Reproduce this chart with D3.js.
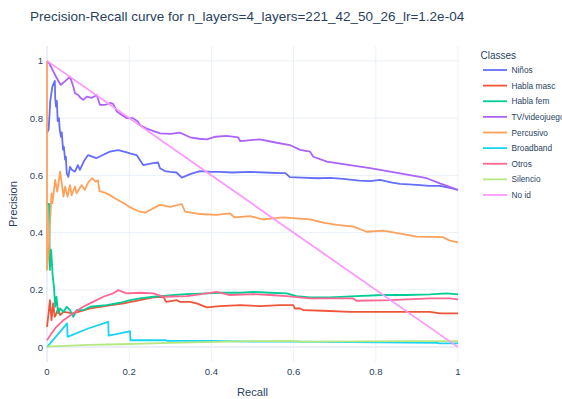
<!DOCTYPE html>
<html>
<head>
<meta charset="utf-8">
<script src="https://cdn.jsdelivr.net/npm/d3@7"></script>
<style>
  html, body { margin: 0; padding: 0; background: #fff; }
  svg { display: block; font-family: "Liberation Sans", Arial, sans-serif; }
</style>
</head>
<body>
<div id="chart"></div>
<script>
// class names + plotly default colours
const classNames = ["Niños", "Habla masc", "Habla fem", "TV/videojuego", "Percusivo", "Broadband", "Otros", "Silencio", "No id"];
const classColors = ["#636efa", "#EF553B", "#00cc96", "#ab63fa", "#FFA15A", "#19d3f3", "#FF6692", "#B6E880", "#FF97FF"];

const xTicks = [0, 0.2, 0.4, 0.6, 0.8, 1];
const yTicks = [0, 0.2, 0.4, 0.6, 0.8, 1];

// [recall, precision] pairs
const ninos = [[0,0.75],[0.004,0.76],[0.008,0.86],[0.013,0.91],[0.019,0.93],[0.02,0.87],[0.022,0.84],[0.024,0.86],[0.026,0.79],[0.029,0.80],[0.031,0.76],[0.034,0.735],[0.036,0.75],[0.039,0.69],[0.041,0.70],[0.044,0.655],[0.046,0.665],[0.048,0.607],[0.052,0.595],[0.056,0.63],[0.06,0.62],[0.068,0.613],[0.075,0.636],[0.08,0.619],[0.09,0.65],[0.1,0.671],[0.12,0.66],[0.136,0.671],[0.153,0.683],[0.173,0.688],[0.19,0.682],[0.202,0.677],[0.218,0.671],[0.234,0.636],[0.255,0.642],[0.27,0.645],[0.275,0.625],[0.287,0.615],[0.3,0.612],[0.315,0.61],[0.328,0.592],[0.35,0.605],[0.372,0.615],[0.4,0.612],[0.421,0.612],[0.45,0.61],[0.494,0.612],[0.53,0.61],[0.567,0.608],[0.58,0.608],[0.591,0.594],[0.62,0.592],[0.66,0.59],[0.689,0.591],[0.72,0.588],[0.76,0.582],[0.786,0.58],[0.81,0.584],[0.84,0.575],[0.859,0.57],[0.9,0.567],[0.93,0.563],[0.956,0.563],[0.98,0.556],[1,0.549]];

const hablaMasc = [[0,0.071],[0.004,0.12],[0.007,0.164],[0.011,0.094],[0.015,0.153],[0.019,0.106],[0.023,0.118],[0.027,0.135],[0.032,0.112],[0.04,0.123],[0.064,0.118],[0.105,0.135],[0.145,0.144],[0.186,0.153],[0.226,0.164],[0.259,0.174],[0.283,0.176],[0.29,0.158],[0.316,0.164],[0.324,0.158],[0.348,0.158],[0.364,0.153],[0.389,0.139],[0.421,0.143],[0.47,0.147],[0.518,0.143],[0.567,0.147],[0.599,0.147],[0.603,0.135],[0.616,0.135],[0.624,0.129],[0.672,0.127],[0.737,0.123],[0.85,0.123],[0.932,0.123],[0.956,0.118],[1,0.118]];

const hablaFem = [[0,0.5],[0.005,0.5],[0.007,0.27],[0.01,0.34],[0.014,0.246],[0.017,0.21],[0.02,0.141],[0.023,0.176],[0.027,0.118],[0.032,0.135],[0.04,0.123],[0.048,0.141],[0.056,0.129],[0.064,0.106],[0.072,0.129],[0.088,0.129],[0.105,0.141],[0.145,0.147],[0.178,0.155],[0.202,0.164],[0.226,0.17],[0.259,0.176],[0.307,0.182],[0.34,0.185],[0.389,0.188],[0.421,0.19],[0.47,0.19],[0.502,0.193],[0.543,0.19],[0.583,0.188],[0.607,0.178],[0.64,0.174],[0.689,0.174],[0.753,0.178],[0.818,0.182],[0.875,0.182],[0.932,0.184],[0.972,0.188],[1,0.184]];

const tvVideojuego = [[0,1],[0.006,0.99],[0.02,0.95],[0.033,0.916],[0.045,0.93],[0.056,0.945],[0.064,0.91],[0.068,0.887],[0.076,0.881],[0.082,0.87],[0.088,0.864],[0.097,0.875],[0.109,0.871],[0.121,0.881],[0.129,0.846],[0.141,0.846],[0.153,0.853],[0.161,0.85],[0.17,0.823],[0.182,0.811],[0.194,0.80],[0.209,0.80],[0.221,0.788],[0.226,0.776],[0.24,0.765],[0.251,0.759],[0.275,0.747],[0.3,0.745],[0.324,0.749],[0.348,0.733],[0.37,0.728],[0.389,0.726],[0.41,0.735],[0.437,0.738],[0.465,0.733],[0.47,0.72],[0.518,0.726],[0.559,0.714],[0.591,0.706],[0.616,0.689],[0.64,0.683],[0.648,0.665],[0.681,0.648],[0.737,0.636],[0.786,0.625],[0.835,0.613],[0.883,0.601],[0.924,0.59],[0.956,0.572],[0.98,0.56],[1,0.549]];

const percusivo = [[0,1],[0,0.27],[0.004,0.33],[0.008,0.45],[0.011,0.537],[0.013,0.502],[0.02,0.584],[0.025,0.543],[0.032,0.613],[0.036,0.572],[0.04,0.526],[0.044,0.561],[0.05,0.526],[0.056,0.566],[0.06,0.531],[0.068,0.561],[0.072,0.537],[0.084,0.566],[0.092,0.549],[0.1,0.575],[0.11,0.59],[0.118,0.578],[0.124,0.583],[0.128,0.545],[0.14,0.54],[0.153,0.531],[0.165,0.52],[0.18,0.508],[0.19,0.5],[0.2,0.49],[0.215,0.48],[0.226,0.473],[0.24,0.47],[0.251,0.479],[0.265,0.49],[0.275,0.497],[0.3,0.49],[0.328,0.50],[0.336,0.473],[0.372,0.465],[0.412,0.462],[0.445,0.467],[0.457,0.453],[0.494,0.458],[0.526,0.446],[0.575,0.453],[0.64,0.446],[0.672,0.435],[0.705,0.427],[0.745,0.421],[0.778,0.403],[0.818,0.407],[0.867,0.395],[0.9,0.386],[0.964,0.384],[0.98,0.372],[1,0.366]];

const broadband = [[0,0],[0.049,0.083],[0.05,0.036],[0.1,0.065],[0.149,0.088],[0.15,0.04],[0.198,0.054],[0.202,0.056],[0.203,0.024],[0.29,0.024],[0.292,0.022],[0.4,0.022],[0.5,0.019],[0.6,0.019],[0.95,0.015],[0.955,0.013],[1,0.013]];

const otros = [[0,0.024],[0.011,0.048],[0.023,0.071],[0.04,0.094],[0.064,0.118],[0.088,0.141],[0.112,0.158],[0.137,0.176],[0.161,0.188],[0.173,0.199],[0.194,0.188],[0.226,0.19],[0.259,0.188],[0.283,0.176],[0.34,0.178],[0.389,0.188],[0.413,0.193],[0.445,0.182],[0.502,0.185],[0.543,0.182],[0.583,0.178],[0.64,0.17],[0.745,0.17],[0.753,0.162],[0.835,0.164],[0.932,0.17],[0.98,0.17],[1,0.167]];

const silencio = [[0,0.002],[0.1,0.008],[0.178,0.01],[0.3,0.015],[0.5,0.021],[0.6,0.022],[0.62,0.019],[0.875,0.021],[1,0.021]];

const noId = [[0,1],[1,0]];

const seriesData = [ninos, hablaMasc, hablaFem, tvVideojuego, percusivo, broadband, otros, silencio, noId];

const W = 562, H = 399;
const margin = { top: 46, right: 104, bottom: 37, left: 47 };
const width = W - margin.left - margin.right;
const height = H - margin.top - margin.bottom;
const textColor = "#2a3f5f";

const svg = d3.select("#chart").append("svg")
    .attr("width", W)
    .attr("height", H);

const x = d3.scaleLinear().domain([0, 1]).range([margin.left, margin.left + width]);
const y = d3.scaleLinear().domain([-0.052, 1.052]).range([margin.top + height, margin.top]);

// grid
svg.append("g")
    .selectAll("line")
    .data(xTicks)
    .enter()
    .append("line")
    .attr("x1", d => x(d)).attr("x2", d => x(d))
    .attr("y1", margin.top).attr("y2", margin.top + height)
    .attr("stroke", "#EBF0F8")
    .attr("stroke-width", d => d === 0 ? 2 : 1);

svg.append("g")
    .selectAll("line")
    .data(yTicks)
    .enter()
    .append("line")
    .attr("x1", margin.left).attr("x2", margin.left + width)
    .attr("y1", d => y(d)).attr("y2", d => y(d))
    .attr("stroke", "#EBF0F8")
    .attr("stroke-width", d => d === 0 ? 2 : 1);

// tick labels
const fmt = d => d === 0 ? "0" : d === 1 ? "1" : d3.format(".1f")(d);

svg.append("g")
    .selectAll("text")
    .data(xTicks)
    .enter()
    .append("text")
    .attr("x", d => x(d))
    .attr("y", 374.5)
    .attr("text-anchor", "middle")
    .style("font-size", "9.6px")
    .style("fill", textColor)
    .text(fmt);

svg.append("g")
    .selectAll("text")
    .data(yTicks)
    .enter()
    .append("text")
    .attr("x", 43)
    .attr("y", d => y(d) + 3.4)
    .attr("text-anchor", "end")
    .style("font-size", "9.6px")
    .style("fill", textColor)
    .text(fmt);

// axis titles
svg.append("text")
    .attr("x", margin.left + width / 2)
    .attr("y", 395.5)
    .attr("text-anchor", "middle")
    .style("font-size", "11.2px")
    .style("fill", textColor)
    .text("Recall");

svg.append("text")
    .attr("transform", `translate(16.5, ${margin.top + height / 2}) rotate(-90)`)
    .attr("text-anchor", "middle")
    .style("font-size", "11.2px")
    .style("fill", textColor)
    .text("Precision");

// title
svg.append("text")
    .attr("x", 30)
    .attr("y", 21)
    .style("font-size", "13.5px")
    .style("fill", textColor)
    .text("Precision-Recall curve for n_layers=4_layers=221_42_50_26_lr=1.2e-04");

// curves
const line = d3.line()
    .x(d => x(d[0]))
    .y(d => y(d[1]));

const plot = svg.append("g");
seriesData.forEach((pts, i) => {
    plot.append("path")
        .datum(pts)
        .attr("fill", "none")
        .attr("stroke", classColors[i])
        .attr("stroke-width", 1.8)
        .attr("stroke-linejoin", "round")
        .attr("d", line);
});

// legend (last label runs past the right edge, as in the reference)
const legend = svg.append("g");
legend.append("text")
    .attr("x", 480.5)
    .attr("y", 58.5)
    .style("font-size", "10px")
    .style("fill", textColor)
    .text("Classes");

const items = legend.selectAll("g.item")
    .data(classNames)
    .enter()
    .append("g")
    .attr("class", "item")
    .attr("transform", (d, i) => `translate(0, ${70 + i * 15.625})`);

items.append("line")
    .attr("x1", 483).attr("x2", 507)
    .attr("y1", 0).attr("y2", 0)
    .attr("stroke", (d, i) => classColors[i])
    .attr("stroke-width", 1.8);

items.append("text")
    .attr("x", 511.5)
    .attr("y", 3)
    .style("font-size", "8.3px")
    .style("fill", textColor)
    .text(d => d);
</script>
</body>
</html>
